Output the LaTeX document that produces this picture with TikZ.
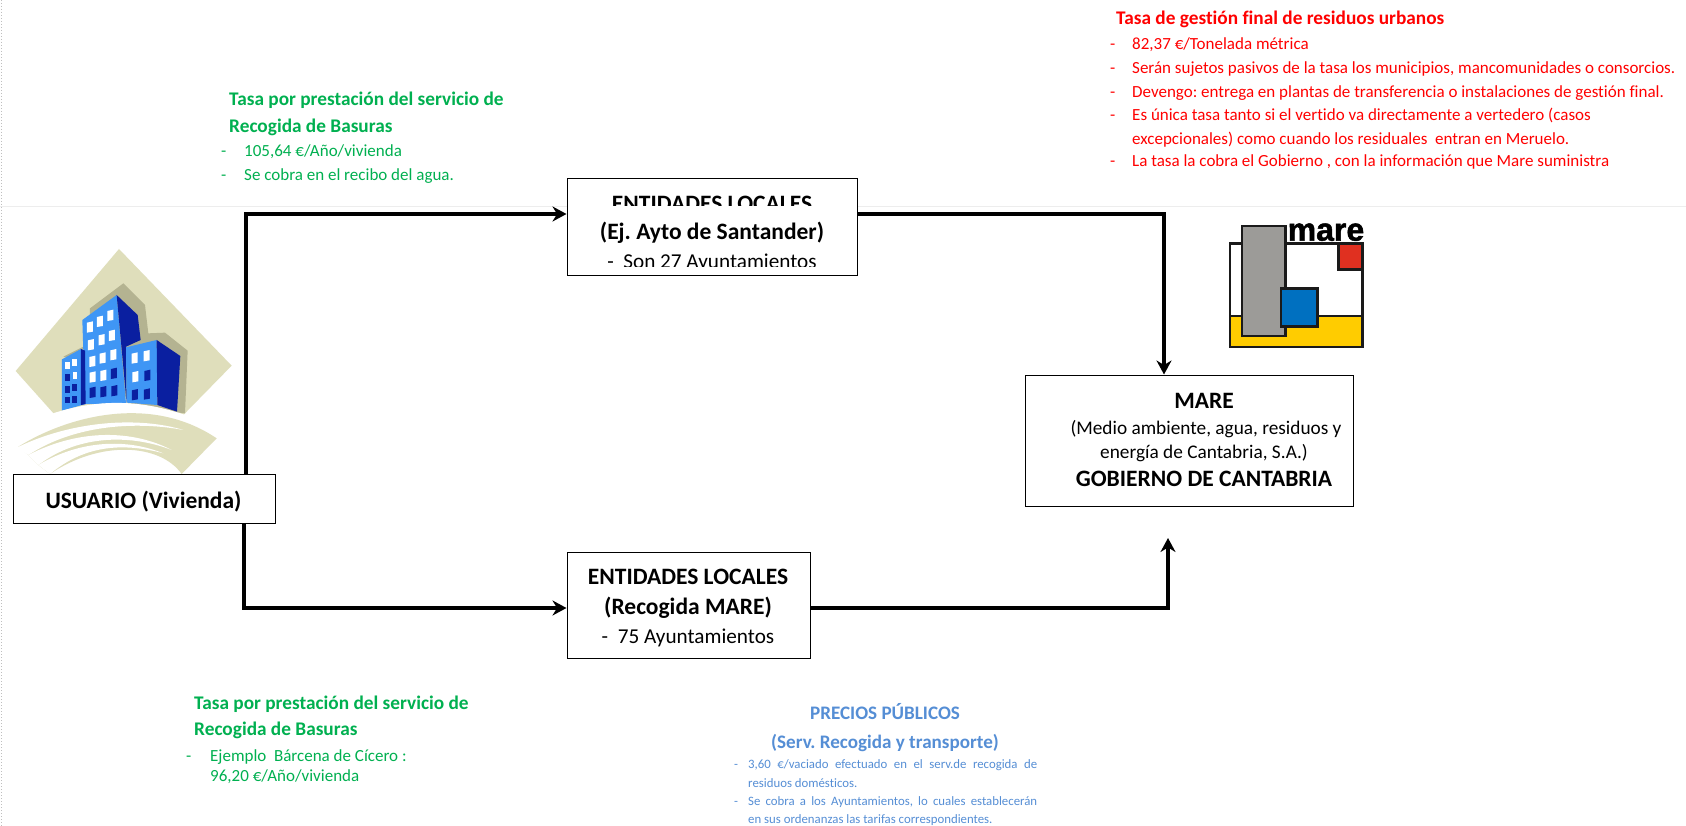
\documentclass[tikz,border=0pt]{standalone}
\usepackage{fontspec}
\setmainfont[Ligatures=NoCommon]{Carlito}
\newfontfamily\logofont[BoldFeatures={FakeBold=1.5}]{Liberation Sans}
\AtBeginDocument{\frenchspacing}
\definecolor{gr}{HTML}{00B050}
\definecolor{rd}{HTML}{FF0000}
\definecolor{bl}{HTML}{558ED5}
\definecolor{bei}{HTML}{DFDEBB}
\definecolor{shd}{HTML}{B4B391}
\definecolor{lb}{HTML}{3F96F5}
\definecolor{db}{HTML}{0A1FA0}
\definecolor{lgy}{HTML}{FFCC00}
\definecolor{lrd}{HTML}{E03020}
\definecolor{lbl}{HTML}{0070C0}
\definecolor{lgr}{HTML}{9C9B98}
\definecolor{lk}{HTML}{1A1A1A}
\newcommand{\fs}[1]{\fontsize{#1}{#1}\selectfont}
\newcommand{\win}[3]{\fill[#3] (#1-9,#2-14) -- (#1+9,#2-18) -- (#1+9,#2+13) -- (#1-9,#2+16) -- cycle;}
\tikzset{
  box/.style={draw=black,line width=1pt,fill=white,inner sep=0pt},
  flow/.style={line width=4.5pt,-{Stealth[length=14pt,width=15pt]},line join=miter},
  ln/.style={anchor=west,inner sep=0pt,text height=12pt,text depth=4pt,yshift=-3pt},
  ct/.style={anchor=center,inner sep=0pt,text height=13pt,text depth=4pt,yshift=-3.5pt},
  gt/.style={ln,text=gr,font=\fs{19.3}\bfseries},
  gi/.style={ln,text=gr,font=\fs{17}},
  rt/.style={ln,text=rd,font=\fs{19.3}\bfseries},
  ri/.style={ln,text=rd,font=\fs{17}},
  bt/.style={ct,text=bl,font=\fs{19.1}\bfseries,yshift=1pt},
  bi/.style={ln,text=bl,font=\fs{12.8},text height=9pt,text depth=3pt,yshift=3pt},
  bxb/.style={ct,font=\fs{23.5}\bfseries},
  bxr/.style={ct,font=\fs{21.2}},
  bxs/.style={ct,font=\fs{19.3}},
}
\usetikzlibrary{arrows.meta}
\begin{document}
\begin{tikzpicture}[x=1pt,y=-1pt]
\useasboundingbox (0,0) rectangle (1686,826);
\fill[white] (0,0) rectangle (1686,826);
\draw[black!7,line width=.8pt] (0,206) -- (1686,206);
\draw[black!25,line width=1pt,dotted] (1,0) -- (1,826);

% building icon
\begin{scope}[shift={(0,220)},x=1/3pt,y=-1/3pt]
\fill[bei] (357,87) -- (695,437) -- (550,585) -- (165,585) -- (47,453) -- cycle;
\fill[shd] (270,265) -- (370,190) -- (435,255) -- (445,340) -- (495,338) -- (563,392) -- (555,580) -- (400,560) -- (270,400) -- cycle;
\fill[shd] (190,410) -- (250,380) -- (250,420) -- cycle;
\fill[lb] (247,300) -- (350,225) -- (378,550) -- (255,552) -- cycle;
\fill[db] (350,225) -- (413,285) -- (422,360) -- (378,380) -- (380,550) -- cycle;
\fill[lb] (186,418) -- (243,387) -- (257,552) -- (186,572) -- cycle;
\fill[db] (243,387) -- (255,392) -- (257,552) -- (243,555) -- cycle;
\fill[lb] (378,382) -- (470,360) -- (472,555) -- (380,548) -- cycle;
\fill[db] (470,360) -- (541,408) -- (531,575) -- (472,555) -- cycle;
\foreach \a/\b in {270/322,300/305,331/287,273/375,305/360,336/347,277/425,308/415,340/405,278/472,310/467}{\win{\a}{\b}{white}}
\foreach \a/\b in {342/461,278/518,310/516,343/513}{\win{\a}{\b}{db}}
\foreach \a/\b in {404/415,440/408,406/471}{\win{\a}{\b}{white}}
\foreach \a/\b in {442/467,405/525,441/523}{\win{\a}{\b}{db}}
\foreach \a/\b in {203/436,223/428,225/466}{\fill[white] (\a-7,\b-11) rectangle (\a+7,\b+11);}
\foreach \a/\b in {203/473,203/508,224/503,203/540,223/538}{\fill[db] (\a-7,\b-10) rectangle (\a+7,\b+10);}
% ground
\fill[white] (130,590) .. controls (280,535) and (420,535) .. (570,590) -- (570,640) -- (130,640) -- cycle;
\fill[bei] (55,680) .. controls (200,590) and (450,520) .. (650,655) -- (545,762) .. controls (480,670) and (300,660) .. (150,762) -- (115,735) -- (85,705) -- cycle;
\fill[white] (50,683) .. controls (220,600) and (420,590) .. (550,630) .. controls (420,605) and (230,610) .. (85,705) -- cycle;
\fill[white] (85,705) .. controls (240,625) and (400,630) .. (515,690) .. controls (400,645) and (240,640) .. (115,735) -- cycle;
\fill[white] (115,735) .. controls (240,660) and (380,655) .. (490,700) .. controls (380,670) and (260,670) .. (150,762) -- cycle;
\end{scope}

% mare logo
\begin{scope}[shift={(1200,200)},x=1/3pt,y=-1/3pt]
\fill[white] (90,130) rectangle (488,441);
\fill[lgy] (90,348) rectangle (488,441);
\fill[lrd] (416,132) rectangle (488,208);
\draw[lk,line width=2.6pt] (90,130) rectangle (488,441);
\draw[lk,line width=2.6pt] (90,348) -- (488,348);
\draw[lk,line width=2.6pt] (416,132) |- (488,208);
\fill[lgr] (126,78) rectangle (257,408);
\draw[lk,line width=2.6pt] (126,78) rectangle (257,408);
\fill[lbl] (243,265) rectangle (353,380);
\draw[lk,line width=2.6pt] (243,265) rectangle (353,380);
\node[inner sep=0pt,anchor=base,font=\fs{32}\logofont\bfseries] (lg) at (378,122) {mare};
\end{scope}

% boxes
\node[box,minimum width=290pt,minimum height=97pt] (top) at (712,227.5) {};
\node[box,minimum width=262pt,minimum height=49pt] (usr) at (144,498.5) {};
\node[box,minimum width=243pt,minimum height=106pt] (bot) at (688.5,605) {};
\node[box,minimum width=328pt,minimum height=131pt] (mar) at (1189,440.5) {};

% box texts
\begin{scope}
\clip (570,180) rectangle (855,206);
\node[bxb] (t1) at (712,204) {ENTIDADES LOCALES};
\end{scope}
\node[bxb] (t2) at (712,232) {(Ej. Ayto de Santander)};
\begin{scope}
\clip (570,240) rectangle (855,267);
\node[bxr] (t3) at (712,261) {-\ \ Son 27 Ayuntamientos};
\end{scope}
\node[bxb] (u1) at (143.5,500) {USUARIO (Vivienda)};
\node[bxb] (b1) at (688,576) {ENTIDADES LOCALES};
\node[bxb] (b2) at (688,606) {(Recogida MARE)};
\node[bxr] (b3) at (688,635) {-\ \ 75 Ayuntamientos};
\node[bxb] (m1) at (1204,400) {MARE};
\node[bxs] (m2) at (1206,426) {(Medio ambiente, agua, residuos y};
\node[bxs] (m3) at (1204,450) {energía de Cantabria, S.A.)};
\node[bxb] (m4) at (1204,478) {GOBIERNO DE CANTABRIA};

% connectors
\coordinate (xa) at (246,0);
\coordinate (ya) at (0,214);
\coordinate (xb) at (244,0);
\coordinate (yb) at (0,608);
\coordinate (xc) at (1164,0);
\coordinate (xd) at (1168,0);
\coordinate (yd) at (0,538);
\draw[flow] (usr.north -| xa) |- (top.west |- ya);
\draw[flow] (top.east |- ya) -| (mar.north -| xc);
\draw[flow] (usr.south -| xb) |- (bot.west |- yb);
\draw[flow] (bot.east |- yb) -| (xd |- yd);

% green 1
\node[gt] (g1) at (229,99) {Tasa por prestación del servicio de};
\node[gt] (g2) at (229,126) {Recogida de Basuras};
\node[gi] (g3) at (221,150) {-};
\node[gi] (g4) at (244,150) {105,64 €/Año/vivienda};
\node[gi] (g5) at (221,174) {-};
\node[gi] (g6) at (244,174) {Se cobra en el recibo del agua.};

% red
\node[rt] (r0) at (1116,18) {Tasa de gestión final de residuos urbanos};
\foreach \n/\y in {a/43,b/67,c/91,d/114,e/160}{\node[ri] (rd\n) at (1110,\y) {-};}
\node[ri] (r1) at (1132,43) {82,37 €/Tonelada métrica};
\node[ri] (r2) at (1132,67) {Serán sujetos pasivos de la tasa los municipios, mancomunidades o consorcios.};
\node[ri] (r3) at (1132,91) {Devengo: entrega en plantas de transferencia o instalaciones de gestión final.};
\node[ri] (r4) at (1132,114) {Es única tasa tanto si el vertido va directamente a vertedero (casos};
\node[ri] (r5) at (1132,138) {excepcionales) como cuando los residuales\ \ entran en Meruelo.};
\node[ri] (r6) at (1132,160) {La tasa la cobra el Gobierno , con la información que Mare suministra};

% green 2
\node[gt] (h1) at (194,702) {Tasa por prestación del servicio de};
\node[gt] (h2) at (194,728) {Recogida de Basuras};
\node[gi] (h3) at (186,754) {-};
\node[gi] (h4) at (210,754) {Ejemplo\ \ Bárcena de Cícero :};
\node[gi] (h5) at (210,774) {96,20 €/Año/vivienda};

% blue
\node[bt] (p1) at (885,712) {PRECIOS PÚBLICOS};
\node[bt] (p2) at (885,741) {(Serv. Recogida y transporte)};
\node[bi] (p3) at (734,765) {-};
\node[bi] (p4) at (748,765) {\makebox[289pt][s]{3,60 €/vaciado efectuado en el serv.de recogida de}};
\node[bi] (p5) at (748,784) {residuos domésticos.};
\node[bi] (p6) at (734,802) {-};
\node[bi] (p7) at (748,802) {\makebox[289pt][s]{Se cobra a los Ayuntamientos, lo cuales establecerán}};
\node[bi] (p8) at (748,820) {en sus ordenanzas las tarifas correspondientes.};
\end{tikzpicture}
\end{document}
